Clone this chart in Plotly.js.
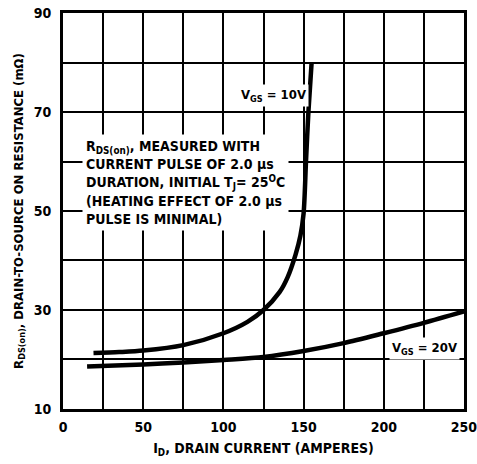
<!DOCTYPE html>
<html>
<head>
<meta charset="utf-8">
<script src="https://cdn.plot.ly/plotly-3.0.1.min.js"></script>
<style>html,body{margin:0;padding:0;background:#fff;}#chart{width:477px;height:464px;}</style>
</head>
<body>
<div id="chart"></div>
<script>
// VGS = 10V curve
const id10 = [19, 35, 50, 75, 100, 115, 125, 135, 140, 145, 148, 150, 151.5, 153, 155];
const r10  = [21.3, 21.5, 21.8, 22.9, 25.3, 27.6, 30.0, 33.6, 36.6, 41.2, 45.0, 49.5, 60.0, 70.0, 80.0];
// VGS = 20V curve
const id20 = [15, 50, 75, 100, 125, 150, 175, 200, 225, 250];
const r20  = [18.6, 19.0, 19.4, 19.9, 20.5, 21.7, 23.3, 25.3, 27.4, 29.7];

const xTickVals = [0, 50, 100, 150, 200, 250];
const xTickText = ["0", "50", "100", "150", "200", "250"];
const yTickVals = [10, 30, 50, 70, 90];
const yTickText = ["10", "30", "50", "70", "90"];

const FONT = "'Liberation Sans Narrow', 'DejaVu Sans Condensed', 'Arial Narrow', sans-serif";

const traces = [
  {x: id10, y: r10, mode: 'lines', line: {color: '#000', width: 4.5, shape: 'spline', smoothing: 0.8}, hoverinfo: 'skip'},
  {x: id20, y: r20, mode: 'lines', line: {color: '#000', width: 4.5, shape: 'spline', smoothing: 0.8}, hoverinfo: 'skip'}
];

const layout = {
  width: 477, height: 464,
  margin: {l: 63, r: 13, t: 13, b: 55},
  paper_bgcolor: '#fff', plot_bgcolor: '#fff',
  showlegend: false,
  font: {family: FONT, color: '#000', size: 14, weight: 700},
  xaxis: {
    range: [-0.02, 250.02], tickvals: xTickVals, ticktext: xTickText,
    showgrid: true, gridcolor: '#000', gridwidth: 2,
    minor: {dtick: 25, tick0: 0, showgrid: true, gridcolor: '#000', gridwidth: 2, ticks: ''},
    showline: true, linecolor: '#000', linewidth: 3, mirror: true,
    ticks: '', zeroline: false, ticklabelstandoff: 3, ticklabeloverflow: 'allow',
    tickfont: {family: FONT, size: 14, weight: 700},
    title: {text: 'I<sub>D</sub>, DRAIN CURRENT (AMPERES)', font: {family: FONT, size: 14, weight: 700}, standoff: 10}
  },
  yaxis: {
    range: [9.99, 90.01], tickvals: yTickVals, ticktext: yTickText,
    showgrid: true, gridcolor: '#000', gridwidth: 2,
    minor: {dtick: 10, tick0: 10, showgrid: true, gridcolor: '#000', gridwidth: 2, ticks: ''},
    showline: true, linecolor: '#000', linewidth: 3, mirror: true,
    ticks: '', zeroline: false, ticklabelstandoff: 6, ticklabeloverflow: 'allow',
    tickfont: {family: FONT, size: 14, weight: 700},
    title: {text: 'R<sub>DS(on)</sub>, DRAIN-TO-SOURCE ON RESISTANCE (mΩ)', font: {family: FONT, size: 13, weight: 700}, standoff: 8}
  },
  annotations: [
    {x: 12, y: 65.6, xref: 'x', yref: 'y', xanchor: 'left', yanchor: 'top', align: 'left', showarrow: false,
     bgcolor: '#fff', borderpad: 3,
     text: 'R<sub>DS(on)</sub>, MEASURED WITH<br>CURRENT PULSE OF 2.0 μs<br>DURATION, INITIAL T<sub>J</sub>= 25<sup>O</sup>C<br>(HEATING EFFECT OF 2.0 μs<br>PULSE IS MINIMAL)',
     font: {family: FONT, size: 14, weight: 700}},
    {x: 109, y: 73.4, xref: 'x', yref: 'y', xanchor: 'left', yanchor: 'middle', showarrow: false,
     bgcolor: '#fff', borderpad: 2,
     text: 'V<sub>GS</sub> = 10V', font: {family: FONT, size: 13, weight: 700}},
    {x: 203, y: 22.3, xref: 'x', yref: 'y', xanchor: 'left', yanchor: 'middle', showarrow: false,
     bgcolor: '#fff', borderpad: 2,
     text: 'V<sub>GS</sub> = 20V', font: {family: FONT, size: 13, weight: 700}}
  ]
};

Plotly.newPlot('chart', traces, layout, {staticPlot: true, displayModeBar: false});
</script>
</body>
</html>
